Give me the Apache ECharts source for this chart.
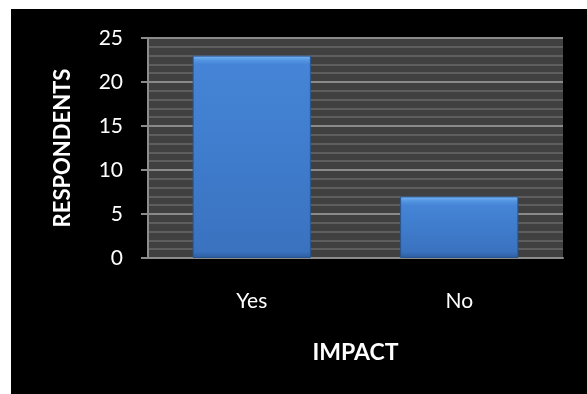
<!DOCTYPE html>
<html>
<head>
<meta charset="utf-8">
<script src="https://cdn.jsdelivr.net/npm/echarts@6/dist/echarts.min.js"></script>
<style>
html,body{margin:0;padding:0;background:#fff;width:587px;height:394px;overflow:hidden;}
#c{position:absolute;left:11px;top:9px;width:576px;height:385px;background:#000;}
</style>
</head>
<body>
<div id="c"></div>
<script>
const categories = ['Yes', 'No'];
const respondents = [23, 7];
const yTicks = [0, 5, 10, 15, 20, 25];

const chart = echarts.init(document.getElementById('c'), null, {renderer: 'canvas'});
const plotH = 220, yMax = 25;
function barStyle(v) {
  const h = v / yMax * plotH;
  const b = Math.min(0.5, 9 / h);
  return {
    color: new echarts.graphic.LinearGradient(0, 0, 0, 1, [
      {offset: 0, color: '#7ab8f5'},
      {offset: b * 0.5, color: '#5596e2'},
      {offset: b, color: '#4584d6'},
      {offset: 0.5, color: '#3f7ccc'},
      {offset: 1 - b * 0.7, color: '#3a72bf'},
      {offset: 1, color: '#2c5c9e'}
    ]),
    borderColor: '#2a568f',
    borderWidth: 1
  };
}
const font = 'Lato';
chart.setOption({
  backgroundColor: '#000',
  animation: false,
  grid: {left: 137, top: 29, width: 415, height: 220, show: true, backgroundColor: '#404040', borderWidth: 0},
  xAxis: {
    type: 'category',
    data: categories,
    name: 'IMPACT',
    nameLocation: 'middle',
    nameGap: 83,
    nameTextStyle: {color: '#fff', fontFamily: font, fontWeight: 'bold', fontSize: 23},
    axisLine: {lineStyle: {color: '#8c8c8c', width: 2}},
    axisTick: {show: false},
    axisLabel: {color: '#fff', fontFamily: font, fontSize: 21, margin: 33}
  },
  yAxis: {
    type: 'value',
    min: yTicks[0],
    max: yTicks[yTicks.length - 1],
    interval: 5,
    name: 'RESPONDENTS',
    nameLocation: 'middle',
    nameGap: 74,
    nameTextStyle: {color: '#fff', fontFamily: font, fontWeight: 'bold', fontSize: 22},
    axisLine: {show: true, lineStyle: {color: '#8c8c8c', width: 2}},
    axisTick: {show: true, inside: false, length: 7, lineStyle: {color: '#8c8c8c', width: 2}},
    axisLabel: {color: '#fff', fontFamily: font, fontSize: 21, margin: 25},
    splitLine: {show: true, lineStyle: {color: '#8a8a8a', width: 2}},
    minorTick: {show: false, splitNumber: 5},
    minorSplitLine: {show: true, lineStyle: {color: '#5e5e5e', width: 2}}
  },
  series: [{
    type: 'bar',
    barWidth: '57%',
    data: respondents.map(v => ({value: v, itemStyle: barStyle(v)}))
  }]
});
</script>
</body>
</html>
